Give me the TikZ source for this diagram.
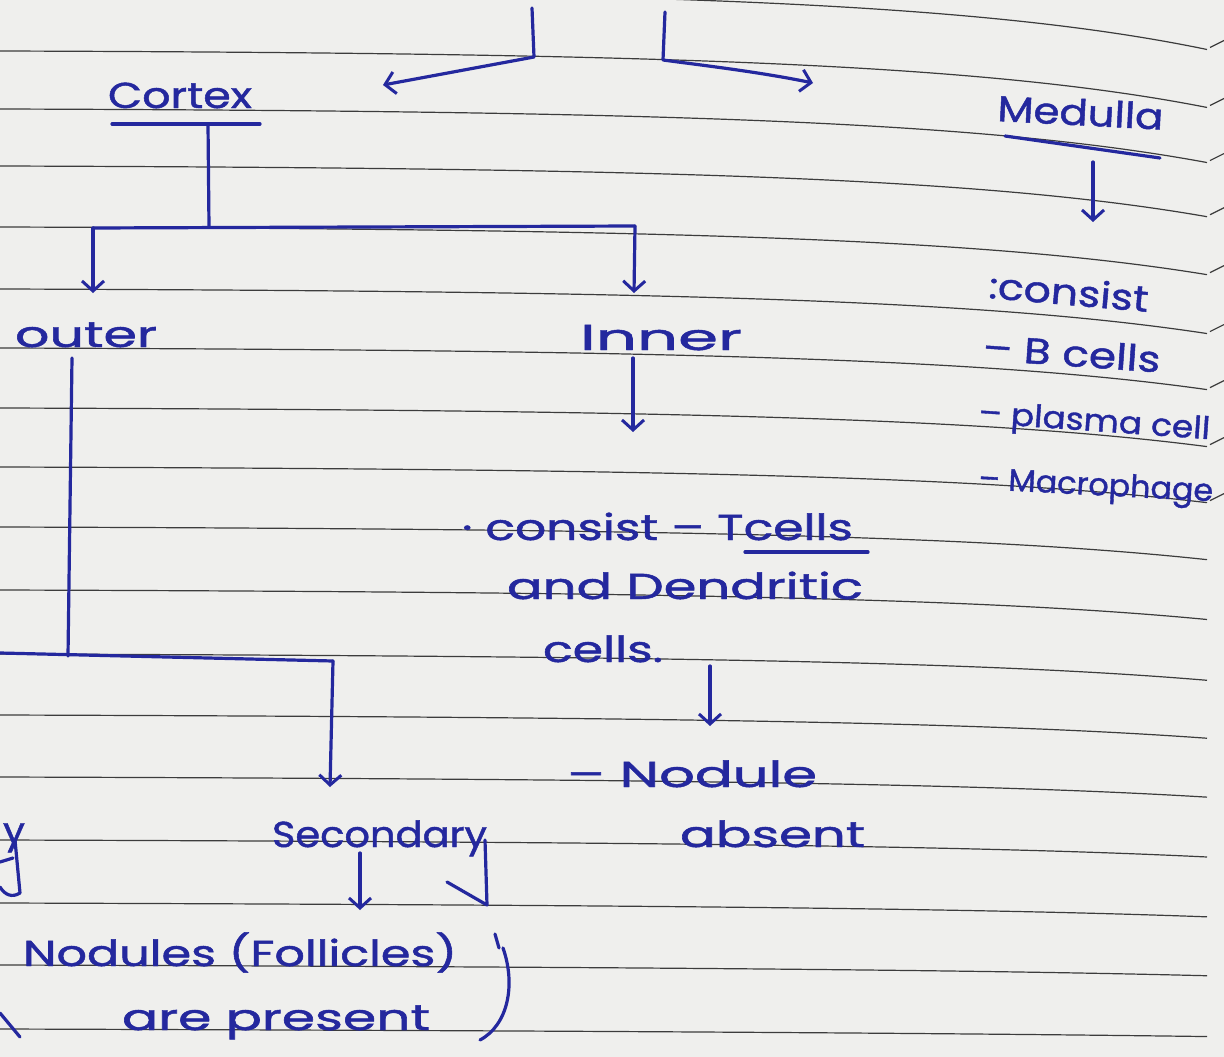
\documentclass[tikz,border=0pt]{standalone}
\usepackage{fontspec}
\setmainfont{Poppins}
\newfontfamily\hwfam{Poppins}[FakeBold=1.2]
\usetikzlibrary{arrows.meta}
\definecolor{ink}{RGB}{36,40,158}
\definecolor{paper}{RGB}{239,239,237}
\definecolor{ruling}{RGB}{60,60,60}
\newsavebox\hwbox
\newcommand\hwfont{\hwfam\fontsize{36}{40}\selectfont}
\newcommand\hwsmall{\hwfam\fontsize{31}{34}\selectfont}
\newcommand\hw[2]{\sbox\hwbox{#2}\pgfmathsetmacro\hwsx{#1/(\the\wd\hwbox)}\scalebox{\hwsx}[1]{\usebox\hwbox}}
\tikzset{
  hand/.style={inner sep=0pt, outer sep=0pt, anchor=base west, text=ink, font=\hwfont},
  pen/.style={draw=ink, line width=3.2pt, line cap=round, line join=round},
  arr/.style={pen, -{Straight Barb[length=10pt,width=22pt,line width=3pt]}},
  ruleline/.style={draw=ruling, line width=1.2pt}
}
\begin{document}
\begin{tikzpicture}[x=1pt,y=-1pt]
\fill[paper] (0,0) rectangle (1224,1057);
\useasboundingbox (0,0) rectangle (1224,1057);
% ruled paper
\foreach \yy in {-10,51,109,166,227,289,348,408,467,527,590,654,715,777,840,903,965,1029}{
  \pgfmathsetmacro\dd{max(3,55-0.05*\yy)}
  \draw[ruleline] (0,\yy) .. controls (650,\yy+2) and (980,\yy+4+0.15*\dd) .. (1207,\yy+4+\dd);
  \ifdim\dd pt>30pt
    \draw[ruleline] (1210,\yy+2+\dd) -- (1224,\yy-5+\dd);
  \fi
}
% ---- top brackets
\coordinate (tlA) at (532,8);
\coordinate (tlB) at (534,57);
\coordinate (tlC) at (383,85);
\coordinate (trA) at (665,12);
\coordinate (trB) at (663,60);
\coordinate (trC) at (813,83);
\draw[arr] (tlA) -- (tlB) -- (tlC);
\draw[arr] (trA) -- (trB) .. controls (700,65) and (760,72) .. (trC);
% ---- texts
\node[hand] (cortex) at (108,108) {\hw{144}{Cortex}};
\node[hand] (outer) at (15,347) {\hw{142}{outer}};
\node[hand] (inner) at (580,350) {\hw{162}{Inner}};
\node[hand, rotate=-3] (medulla) at (997,121) {\hw{166}{Medulla}};
\node[hand, rotate=-5] (mcons) at (988,298) {\hw{160}{:consist}};
\node[hand, rotate=-4] (bcells) at (982,360) {\hw{178}{– B cells}};
\node[hand, rotate=-4, font=\hwsmall] (plasma) at (978,423) {\hw{232}{– plasma cell}};
\node[hand, rotate=-3, font=\hwsmall] (macro) at (978,489) {\hw{235}{– Macrophage}};
\node[hand] (tcons) at (462,540) {\hw{391}{· consist – Tcells}};
\node[hand] (dend) at (507,599) {\hw{356}{and Dendritic}};
\node[hand] (cells) at (543,662) {\hw{120}{cells.}};
\node[hand] (nodule) at (567,787) {\hw{250}{– Nodule}};
\node[hand] (absent) at (680,847) {\hw{185}{absent}};
\node[hand] (second) at (272,847) {\hw{215}{Secondary}};
\node[hand] (prim) at (3,843) {\hw{22}{y}};
\node[hand] (noduls) at (23,966) {\hw{434}{Nodules (Follicles)}};
\node[hand] (present) at (122,1030) {\hw{308}{are present}};
% ---- cortex tree
\coordinate (cUl) at (112,124);
\coordinate (cUr) at (260,124);
\coordinate (cMid) at (208,124);
\coordinate (cJ) at (209,227);
\coordinate (jL) at (93,228);
\coordinate (jR) at (635,226);
\coordinate (aOuter) at (93,293);
\coordinate (aInner) at (634,293);
\draw[pen] (cUl) -- (cUr);
\draw[pen] (cMid) -- (cJ);
\draw[pen] (jL) -- (jR);
\draw[arr] (jL) -- (aOuter);
\draw[arr] (jR) -- (aInner);
% inner branch
\coordinate (iTop) at (633,358);
\coordinate (iBot) at (633,432);
\draw[arr] (iTop) -- (iBot);
\coordinate (tuL) at (745,552);
\coordinate (tuR) at (868,552);
\draw[pen] (tuL) -- (tuR);
\coordinate (cTop) at (710,666);
\coordinate (cBot) at (710,726);
\draw[arr] (cTop) -- (cBot);
% outer branch
\coordinate (oTop) at (72,358);
\coordinate (oJ) at (68,656);
\coordinate (oL) at (0,653);
\coordinate (oR) at (333,661);
\coordinate (sArr) at (330,787);
\draw[pen] (oTop) -- (oJ);
\draw[pen] (oL) -- (oR);
\draw[arr] (oR) -- (sArr);
% secondary
\coordinate (sTop) at (360,853);
\coordinate (sBot) at (360,910);
\draw[arr] (sTop) -- (sBot);
\draw[pen] (485,840) -- (487,905) -- (447,882);
% left fragment
\draw[pen] (15,840) -- (20,893) .. controls (12,898) and (5,895) .. (0,887);
\draw[pen] (0,862) -- (13,858);
\draw[pen] (0,1013) -- (20,1037);
% closing bracket
\draw[pen] (495,934) -- (499,948);
\draw[pen] (503,948) .. controls (516,985) and (508,1025) .. (480,1040);
% medulla
\coordinate (mUl) at (1005,136);
\coordinate (mUr) at (1160,158);
\draw[pen] (mUl) -- (mUr);
\coordinate (mTop) at (1093,162);
\coordinate (mBot) at (1093,222);
\draw[arr] (mTop) -- (mBot);
\end{tikzpicture}
\end{document}
